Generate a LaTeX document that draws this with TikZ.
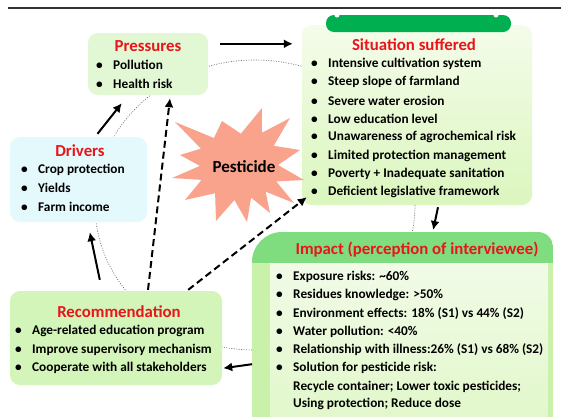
\documentclass[tikz,border=0pt]{standalone}
\usepackage{fontspec}
\setmainfont{Carlito}
\usetikzlibrary{calc,arrows.meta}

\definecolor{ttlred}{HTML}{E8151B}
\definecolor{pressfill}{HTML}{E2F8D5}
\definecolor{drvfill}{HTML}{E4F9FC}
\definecolor{recfill}{HTML}{D3F5BA}
\definecolor{sittop}{HTML}{F4FCEA}
\definecolor{sitbot}{HTML}{DBF6BE}
\definecolor{tabgreen}{HTML}{00B050}
\definecolor{imphead}{HTML}{80DD7F}
\definecolor{impside}{HTML}{C9F1A9}
\definecolor{impintop}{HTML}{F1FBE7}
\definecolor{impinbot}{HTML}{DFF7C6}
\definecolor{starfill}{HTML}{F9A38C}

\tikzset{
  box/.style={rounded corners=10pt, inner sep=0pt},
  ttl/.style={text=ttlred, inner sep=0pt, font=\fontsize{16.8}{18}\selectfont\bfseries},
  itm/.style={anchor=west, inner sep=0pt, font=\fontsize{13.3}{15}\selectfont\bfseries},
  flow/.style={line width=2pt, -{Latex[length=9pt,width=9pt]}},
  link/.style={flow, dash pattern=on 7pt off 4pt},
  loopline/.style={black!60, line width=0.6pt, dash pattern=on 1pt off 1.5pt}
}
\newcommand{\bul}{\makebox[17pt][l]{\textbullet}}

\begin{document}
\begin{tikzpicture}[x=1pt,y=-1pt]
  \clip (0,0) rectangle (561,416);
  \fill[white] (0,0) rectangle (561,416);
  \draw[line width=1.2pt, black!80] (8,8) -- (561,8);% rule on top

  \draw[loopline] (255,205) ellipse (160 and 145);% dotted loop behind the boxes

  % boxes
  \node[box, fill=pressfill, minimum width=120pt, minimum height=62pt] (press) at (148,64) {};
  \node[box, top color=sittop, bottom color=sitbot, minimum width=230pt, minimum height=180pt] (sit) at (417,115) {};
  \node[box, fill=drvfill, minimum width=137pt, minimum height=85pt] (drv) at (78.5,179.5) {};
  \node[box, fill=recfill, minimum width=212pt, minimum height=94pt] (rec) at (116,338) {};
  \node[inner sep=0pt, minimum width=301pt, minimum height=190pt, anchor=north west] (imp) at (252,232) {};

  % green tab on top of the situation box
  \fill[tabgreen, rounded corners=8pt] (326,15) rectangle (511,32);
  \fill[white] (337,15) circle (2.5pt) (496,15) circle (2.5pt);

  % impact box: header band, side band, inner panel
  \begin{scope}
    \clip (252,445) -- (252,262) arc (180:270:30) -- (538,232) arc (270:360:15) -- (553,445) -- cycle;
    \fill[imphead] (252,232) rectangle (553,263);
    \fill[impside] (252,263) rectangle (553,445);
    \fill[top color=impintop, bottom color=impinbot] (270,263) rectangle (548,445);
  \end{scope}

  % the pesticide star
  \fill[starfill] (175,122) -- (213.9,138) -- (222,121) -- (240.9,133.7) -- (262,108) -- (261.9,132.8)
    -- (290,118) -- (273.7,145.8) -- (300,150) -- (278.1,165) -- (304,180) -- (276.2,181.4)
    -- (294,203) -- (265.7,191.7) -- (270,213) -- (251.1,197.6) -- (247,222) -- (234.4,200)
    -- (216,221) -- (215.1,193.2) -- (185,200) -- (201.5,179.9) -- (172,178) -- (199.9,165.9)
    -- (180,155) -- (200.9,148.6) -- cycle;
  \node[inner sep=0pt, font=\fontsize{17}{18}\selectfont\bfseries] (pest) at (244,167) {Pesticide};

  % titles
  \node[ttl] (press-ttl) at (148,46) {Pressures};
  \node[ttl] (sit-ttl) at (414,45) {Situation suffered};
  \node[ttl] (drv-ttl) at (80,151) {Drivers};
  \node[ttl] (rec-ttl) at (119,312) {Recommendation};
  \node[ttl] (imp-ttl) at (417,250) {Impact (perception of interviewee)};

  % items
  \foreach \t [count=\i] in {Pollution, Health risk}
    \node[itm] (press-\i) at (96,{65+18.5*(\i-1)}) {\bul\t};
  \foreach \t [count=\i] in {Intensive cultivation system, Steep slope of farmland,
      Severe water erosion, Low education level, Unawareness of agrochemical risk,
      Limited protection management, Poverty + Inadequate sanitation,
      Deficient legislative framework}
    \node[itm] (sit-\i) at (311,{64+18.3*(\i-1)}) {\bul\t};
  \foreach \t [count=\i] in {Crop protection, Yields, Farm income}
    \node[itm] (drv-\i) at (21,{170+18.3*(\i-1)}) {\bul\t};
  \foreach \t [count=\i] in {Age-related education program, Improve supervisory mechanism,
      Cooperate with all stakeholders}
    \node[itm] (rec-\i) at (15,{331+18.5*(\i-1)}) {\bul\t};
  \foreach \t [count=\i] in {Exposure risks: \textasciitilde60\%, Residues knowledge: >50\%,
      Environment effects: 18\% (S1) vs 44\% (S2), Water pollution: <40\%,
      Relationship with illness:26\% (S1) vs 68\% (S2), Solution for pesticide risk:}
    \node[itm] (imp-\i) at (276,{277+18.2*(\i-1)}) {\bul\t};
  \node[itm] (imp-7) at (293,387) {Recycle container; Lower toxic pesticides;};
  \node[itm] (imp-8) at (293,404) {Using protection; Reduce dose};

  % arrows
  \draw[flow] ($(press.north east)+(12,11)$) -- ($(sit.north west)+(-9,19)$);
  \draw[flow] ($(drv.north)+(19,-3)$) -- ($(press.south west)+(34,8)$);
  \draw[flow] ($(rec.north west)+(90,-11)$) -- ($(drv.south west)+(80,10)$);
  \draw[flow] ($(imp.west)+(0,37)$) -- ($(rec.south east)+(1,-17)$);
  \draw[flow] ($(sit.south)+(21,2)$) -- ($(imp.north)+(30.5,-2)$);
  \draw[link] ($(rec.north)+(32,-1)$) -- ($(press.south)+(22,3)$);
  \draw[link] ($(rec.north east)+(-34,-1)$) -- ($(sit.south west)+(5,-8)$);
\end{tikzpicture}
\end{document}
